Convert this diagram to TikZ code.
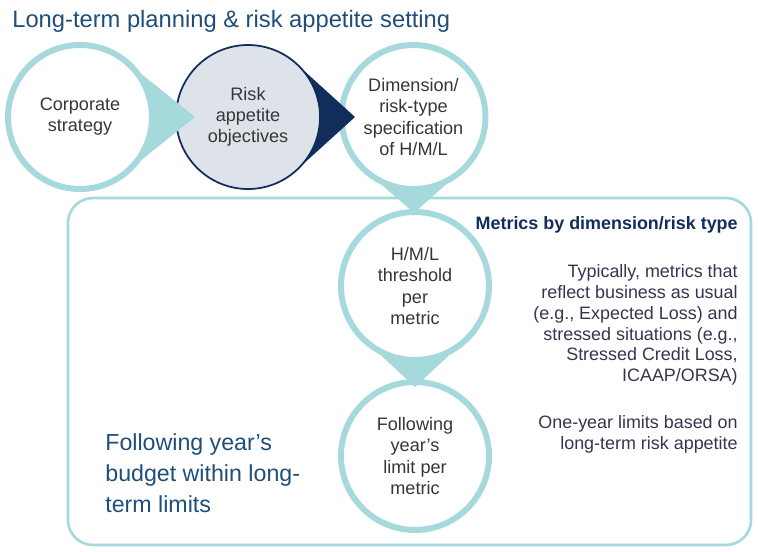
\documentclass[tikz,border=0pt]{standalone}
\usepackage{fontspec}
\setmainfont{Liberation Sans}
\usetikzlibrary{positioning}

\definecolor{ringteal}{HTML}{A5D9DC}
\definecolor{deepnavy}{HTML}{112D5C}
\definecolor{paleblue}{HTML}{DEE3EA}
\definecolor{titleblue}{HTML}{1F4E79}
\definecolor{bodygray}{HTML}{35354F}
\definecolor{circtext}{HTML}{363636}

\begin{document}
\begin{tikzpicture}[
  ring/.style={circle, draw=ringteal, line width=3.4pt, fill=white,
               minimum size=2.88cm, inner sep=0pt, outer sep=0pt, align=center,
               font=\fontsize{10.3}{12}\selectfont, text=circtext},
  bigring/.style={ring, minimum size=2.96cm},
  darkring/.style={ring, draw=deepnavy, line width=1pt, fill=paleblue},
  note/.style={align=right, inner sep=0pt, text=bodygray,
               font=\fontsize{10.2}{11.9}\selectfont},
  bigtext/.style={text=titleblue, inner sep=0pt}
]
  \useasboundingbox (0,0) rectangle (15.16,-11.02);

  % frame for the one-year part
  \draw[ringteal, line width=1.5pt, rounded corners=0.5cm] (1.36,-3.96) rectangle (15.02,-10.9);

  \node[bigtext, anchor=base west, font=\fontsize{13.5}{16}\selectfont] (title) at (0.24,-0.54)
    {Long-term planning \& risk appetite setting};

  \node[ring]     (corp) at (1.60,-2.34) {Corporate\\strategy};
  \node[darkring] (rao)  at (4.96,-2.34) {Risk\\appetite\\objectives};
  \node[ring]     (dim)  at (8.27,-2.34) {Dimension/\\risk-type\\specification\\of H/M/L};
  \node[bigring]  (thr)  at (8.30,-5.72) {H/M/L\\threshold\\per\\metric};
  \node[bigring]  (lim)  at (8.30,-9.12) {Following\\year's\\limit per\\metric};

  % pointer tips
  \coordinate (corp tip) at (3.90,-2.34);
  \coordinate (rao tip)  at (7.10,-2.34);
  \coordinate (dim tip)  at (8.28,-4.26);
  \coordinate (thr tip)  at (8.30,-7.74);

  \fill[ringteal] (corp.49) -- (corp tip) -- (corp.-49) arc[start angle=-49, end angle=49, radius=1.44cm] -- cycle;
  \fill[deepnavy] (rao.45) -- (rao tip) -- (rao.-45) arc[start angle=-45, end angle=45, radius=1.44cm] -- cycle;
  \fill[ringteal] (dim.-51) -- (dim tip) -- (dim.-129) arc[start angle=-129, end angle=-51, radius=1.44cm] -- cycle;
  \fill[ringteal] (thr.-48) -- (thr tip) -- (thr.-132) arc[start angle=-132, end angle=-48, radius=1.48cm] -- cycle;

  \node[note, anchor=base east, text=deepnavy, font=\bfseries\fontsize{10.2}{12}\selectfont] (head) at (14.76,-4.58)
    {Metrics by dimension/risk type};
  \node[note, anchor=north east] (typ) at (14.76,-5.28)
    {Typically, metrics that\\reflect business as usual\\(e.g., Expected Loss) and\\stressed situations (e.g.,\\Stressed Credit Loss,\\ICAAP/ORSA)};
  \node[note, anchor=north east] (oneyr) at (14.76,-8.30)
    {One-year limits based on\\long-term risk appetite};

  \node[bigtext, anchor=north west, align=left, font=\fontsize{13.2}{17.6}\selectfont] (budget) at (2.10,-8.66)
    {Following year's\\budget within long-\\term limits};
\end{tikzpicture}
\end{document}
